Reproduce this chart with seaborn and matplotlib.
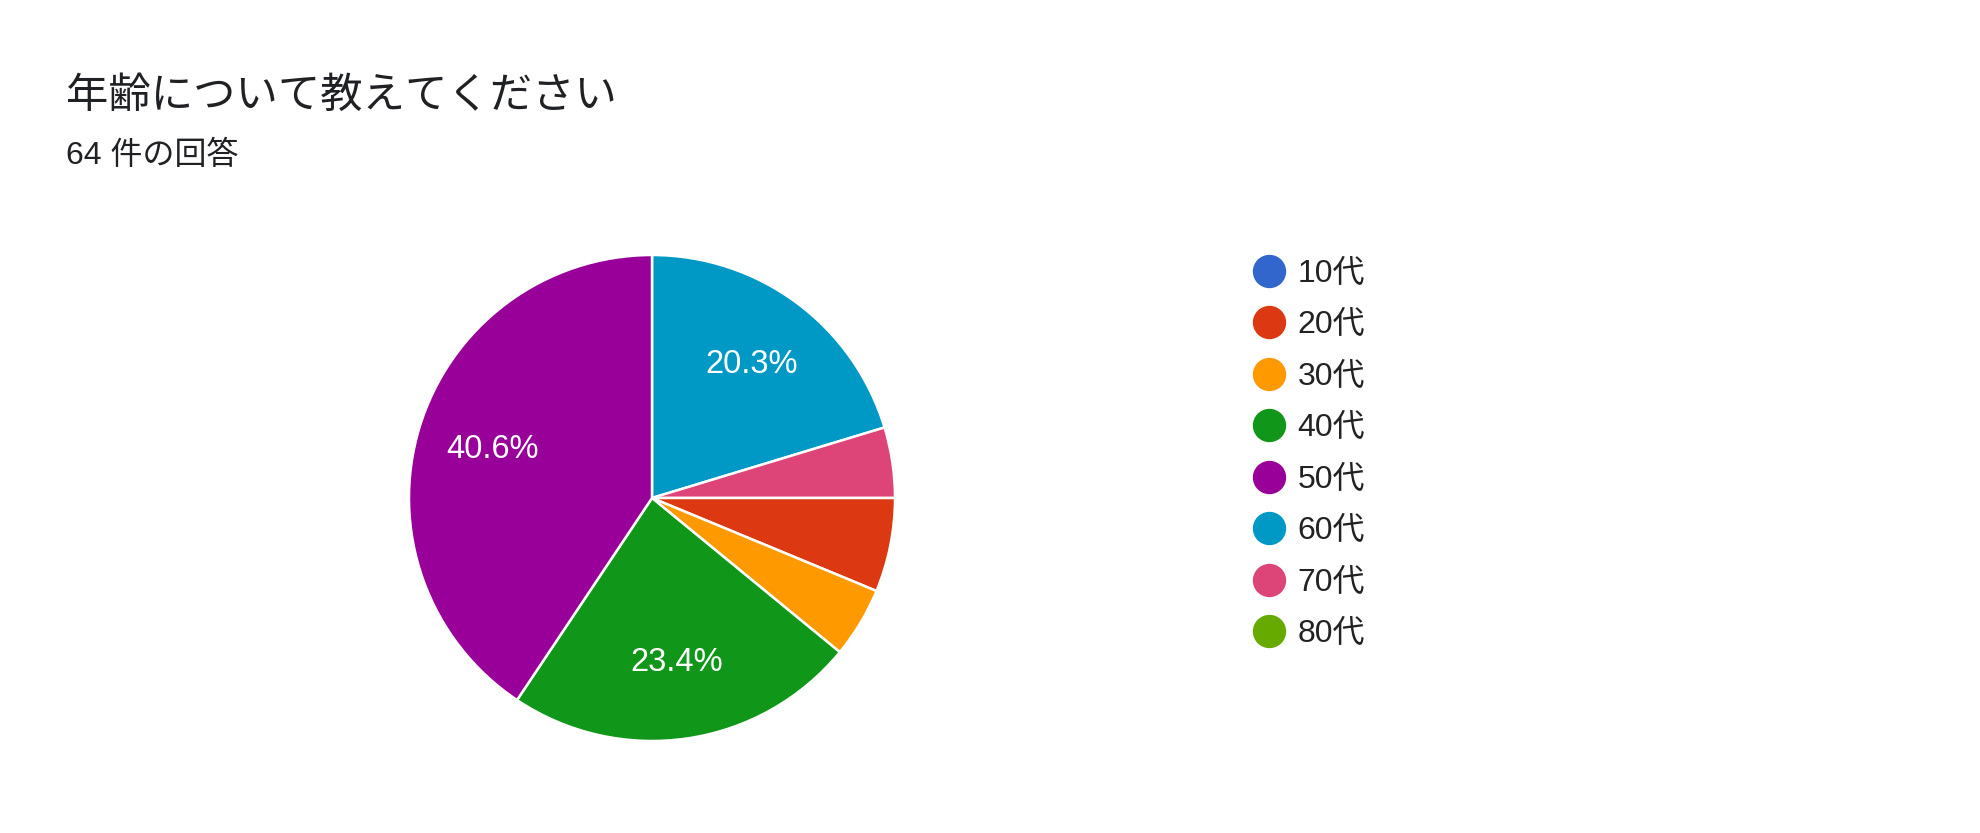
import matplotlib.pyplot as plt
from matplotlib.lines import Line2D
import seaborn as sns

# data (64 responses)
ages = ['10代', '20代', '30代', '40代', '50代', '60代', '70代', '80代']
counts = [0, 4, 3, 15, 26, 13, 3, 0]
colors = ['#3366cc', '#dc3912', '#ff9900', '#109618', '#990099', '#0099c6', '#dd4477', '#66aa00']
# order of the slices clockwise from the top
pie_order = ['60代', '70代', '20代', '30代', '40代', '50代']

title = '年齢について教えてください'
subtitle = '64 件の回答'

sns.set_theme(style="white")
plt.rcParams['font.family'] = ['Liberation Sans', 'Noto Sans CJK JP', 'DejaVu Sans']

W, H = 1980, 833
fig = plt.figure(figsize=(W / 100, H / 100), dpi=100)
fig.patch.set_facecolor('white')

cx, cy, r = 652, 498, 243
ax = fig.add_axes([(cx - r) / W, (H - cy - r) / H, 2 * r / W, 2 * r / H])

color_of = dict(zip(ages, colors))
count_of = dict(zip(ages, counts))
vals = [count_of[a] for a in pie_order]
cols = [color_of[a] for a in pie_order]


def pct_label(p):
    return f'{p:.1f}%' if p > 10 else ''


wedges, _, autotexts = ax.pie(
    vals, colors=cols, startangle=90, counterclock=False, radius=1,
    autopct=pct_label, pctdistance=0.685,
    wedgeprops=dict(edgecolor='white', linewidth=1.8),
    textprops=dict(color='white', fontsize=23.5),
)
ax.set_xlim(-1, 1)
ax.set_ylim(-1, 1)
ax.set_aspect('equal')
ax.axis('off')

fig.text(66 / W, 1 - 97 / H, title, fontsize=30.5, color='#202124', va='center', ha='left')
fig.text(66 / W, 1 - 156 / H, subtitle, fontsize=23, color='#202124', va='center', ha='left')

handles = [Line2D([], [], marker='o', linestyle='none', markersize=23,
                  markerfacecolor=c, markeredgecolor=c) for c in colors]
leg = fig.legend(handles, ages, loc='upper left', bbox_to_anchor=(1251 / W, 1 - 259 / H),
                 frameon=False, fontsize=23, handletextpad=0.35, labelspacing=0.672,
                 handlelength=1.1, borderaxespad=0, borderpad=0)
for t in leg.get_texts():
    t.set_color('#222222')

fig.savefig('out.png', dpi=100, facecolor='white')
plt.close(fig)
